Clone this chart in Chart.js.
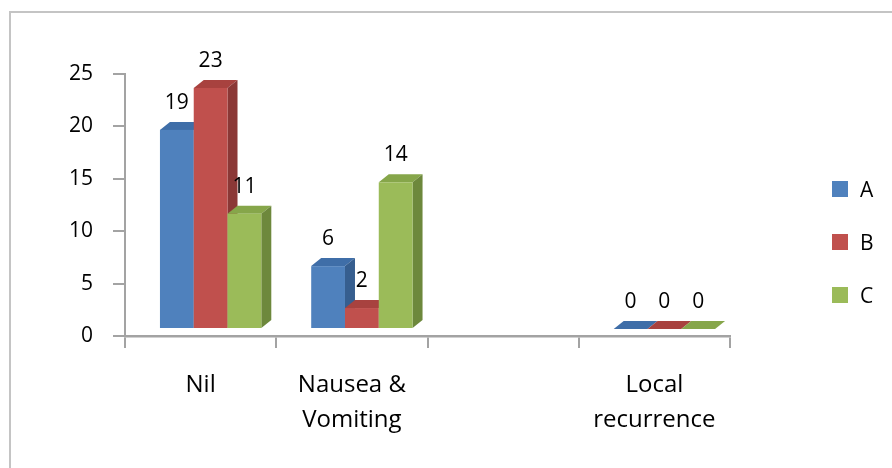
<!DOCTYPE html>
<html>
<head>
<meta charset="utf-8">
<script src="https://cdn.jsdelivr.net/npm/chart.js@4.4.0/dist/chart.umd.min.js"></script>
<style>
  html, body { margin: 0; padding: 0; background: #fff; overflow: hidden; }
  #quadro { position: absolute; left: 0; top: 0; width: 892px; height: 468px; overflow: hidden; }
  #moldura { position: absolute; left: 9px; top: 11px; width: 1000px; height: 1000px; border: 2px solid #c4c4c4; }
  #grafico { position: absolute; left: 0; top: 0; }
  .item { position: absolute; left: 832px; height: 16px; display: flex; align-items: center;
          font-family: 'Open Sans', sans-serif; font-size: 21px; line-height: 1; color: #000; }
  .cor { width: 16px; height: 16px; margin-right: 12px; }
</style>
</head>
<body>
<div id="quadro">
  <div id="moldura"></div>
  <canvas id="grafico" width="892" height="468"></canvas>
</div>
<script>
// Dados
const categorias = ['Nil', ['Nausea &', 'Vomiting'], '', ['Local', 'recurrence']];
const series = ['A', 'B', 'C'];
const valoresA = [19, 6, null, 0];
const valoresB = [23, 2, null, 0];
const valoresC = [11, 14, null, 0];
const ticksY = [0, 5, 10, 15, 20, 25];

// cores: frente, topo, lado
const cores = [
  ['#4f81bd', '#3f6ea8', '#365e8f'],
  ['#c0504d', '#a8423f', '#8b3836'],
  ['#9bbb59', '#86a64a', '#6d883c']
];

const FONTE = "'Open Sans', sans-serif";
const CINZA = '#a3a3a3';
const TEXTO = '#000';
const DESLOC = { x: 10, y: -7 };   // barras ficam "atrás" do eixo
const PROF = { x: 10, y: 8 };      // profundidade do 3D

// Desenha as barras com topo e lateral (efeito 3D)
const barras3d = {
  id: 'barras3d',
  beforeDatasetsDraw(chart) {
    const ctx = chart.ctx;
    const n = chart.data.labels.length;
    ctx.save();
    ctx.translate(DESLOC.x, DESLOC.y);
    for (let j = 0; j < n; j++) {
      chart.data.datasets.forEach((ds, i) => {
        if (ds.data[j] == null) return;
        const b = chart.getDatasetMeta(i).data[j];
        const { x, y, base, width } = b.getProps(['x', 'y', 'base', 'width'], true);
        const l = x - width / 2, r = x + width / 2;
        const [frente, topo, lado] = cores[i];
        ctx.fillStyle = topo;
        ctx.beginPath();
        ctx.moveTo(l, y); ctx.lineTo(l + PROF.x, y - PROF.y);
        ctx.lineTo(r + PROF.x, y - PROF.y); ctx.lineTo(r, y);
        ctx.closePath(); ctx.fill();
        ctx.fillStyle = lado;
        ctx.beginPath();
        ctx.moveTo(r, y); ctx.lineTo(r + PROF.x, y - PROF.y);
        ctx.lineTo(r + PROF.x, base - PROF.y); ctx.lineTo(r, base);
        ctx.closePath(); ctx.fill();
        ctx.fillStyle = frente;
        ctx.fillRect(l, y, width, base - y);
      });
    }
    // rótulos de valor
    ctx.font = '21px ' + FONTE;
    ctx.fillStyle = TEXTO;
    ctx.textAlign = 'center';
    ctx.textBaseline = 'middle';
    chart.data.datasets.forEach((ds, i) => {
      chart.getDatasetMeta(i).data.forEach((b, j) => {
        if (ds.data[j] == null) return;
        ctx.fillText(String(ds.data[j]), b.x, b.y - 27);
      });
    });
    ctx.restore();
    return false;
  }
};

const valores = [valoresA, valoresB, valoresC];

new Chart(document.getElementById('grafico'), {
  type: 'bar',
  data: {
    labels: categorias,
    datasets: series.map((s, i) => ({
      label: s,
      data: valores[i],
      backgroundColor: cores[i][0],
      categoryPercentage: 0.67,
      barPercentage: 1
    }))
  },
  options: {
    responsive: false,
    animation: false,
    layout: { padding: { top: 74, right: 162, bottom: 0, left: 0 } },
    plugins: { legend: { display: false }, tooltip: { enabled: false } },
    scales: {
      x: {
        ticks: {
          padding: 20, color: TEXTO, maxRotation: 0, autoSkip: false,
          font: { family: FONTE, size: 24, lineHeight: 35 / 24 }
        },
        grid: { drawOnChartArea: false, tickLength: 12, color: CINZA, lineWidth: 2, offset: true },
        border: { color: CINZA, width: 2.5 },
        afterFit: s => { s.height = 132; }
      },
      y: {
        min: ticksY[0],
        max: ticksY[ticksY.length - 1],
        ticks: {
          stepSize: ticksY[1] - ticksY[0], padding: 20, color: TEXTO,
          font: { family: FONTE, size: 21 }
        },
        grid: { drawOnChartArea: false, tickLength: 12, color: CINZA, lineWidth: 2 },
        border: { color: CINZA, width: 2 },
        afterFit: s => { s.width = 125; }
      }
    }
  },
  plugins: [barras3d]
});

// Legenda à direita
series.forEach((s, i) => {
  const div = document.createElement('div');
  div.className = 'item';
  div.style.top = (181 + i * 53) + 'px';
  div.innerHTML = `<span class="cor" style="background:${cores[i][0]}"></span><span>${s}</span>`;
  document.getElementById('quadro').appendChild(div);
});
</script>
</body>
</html>
